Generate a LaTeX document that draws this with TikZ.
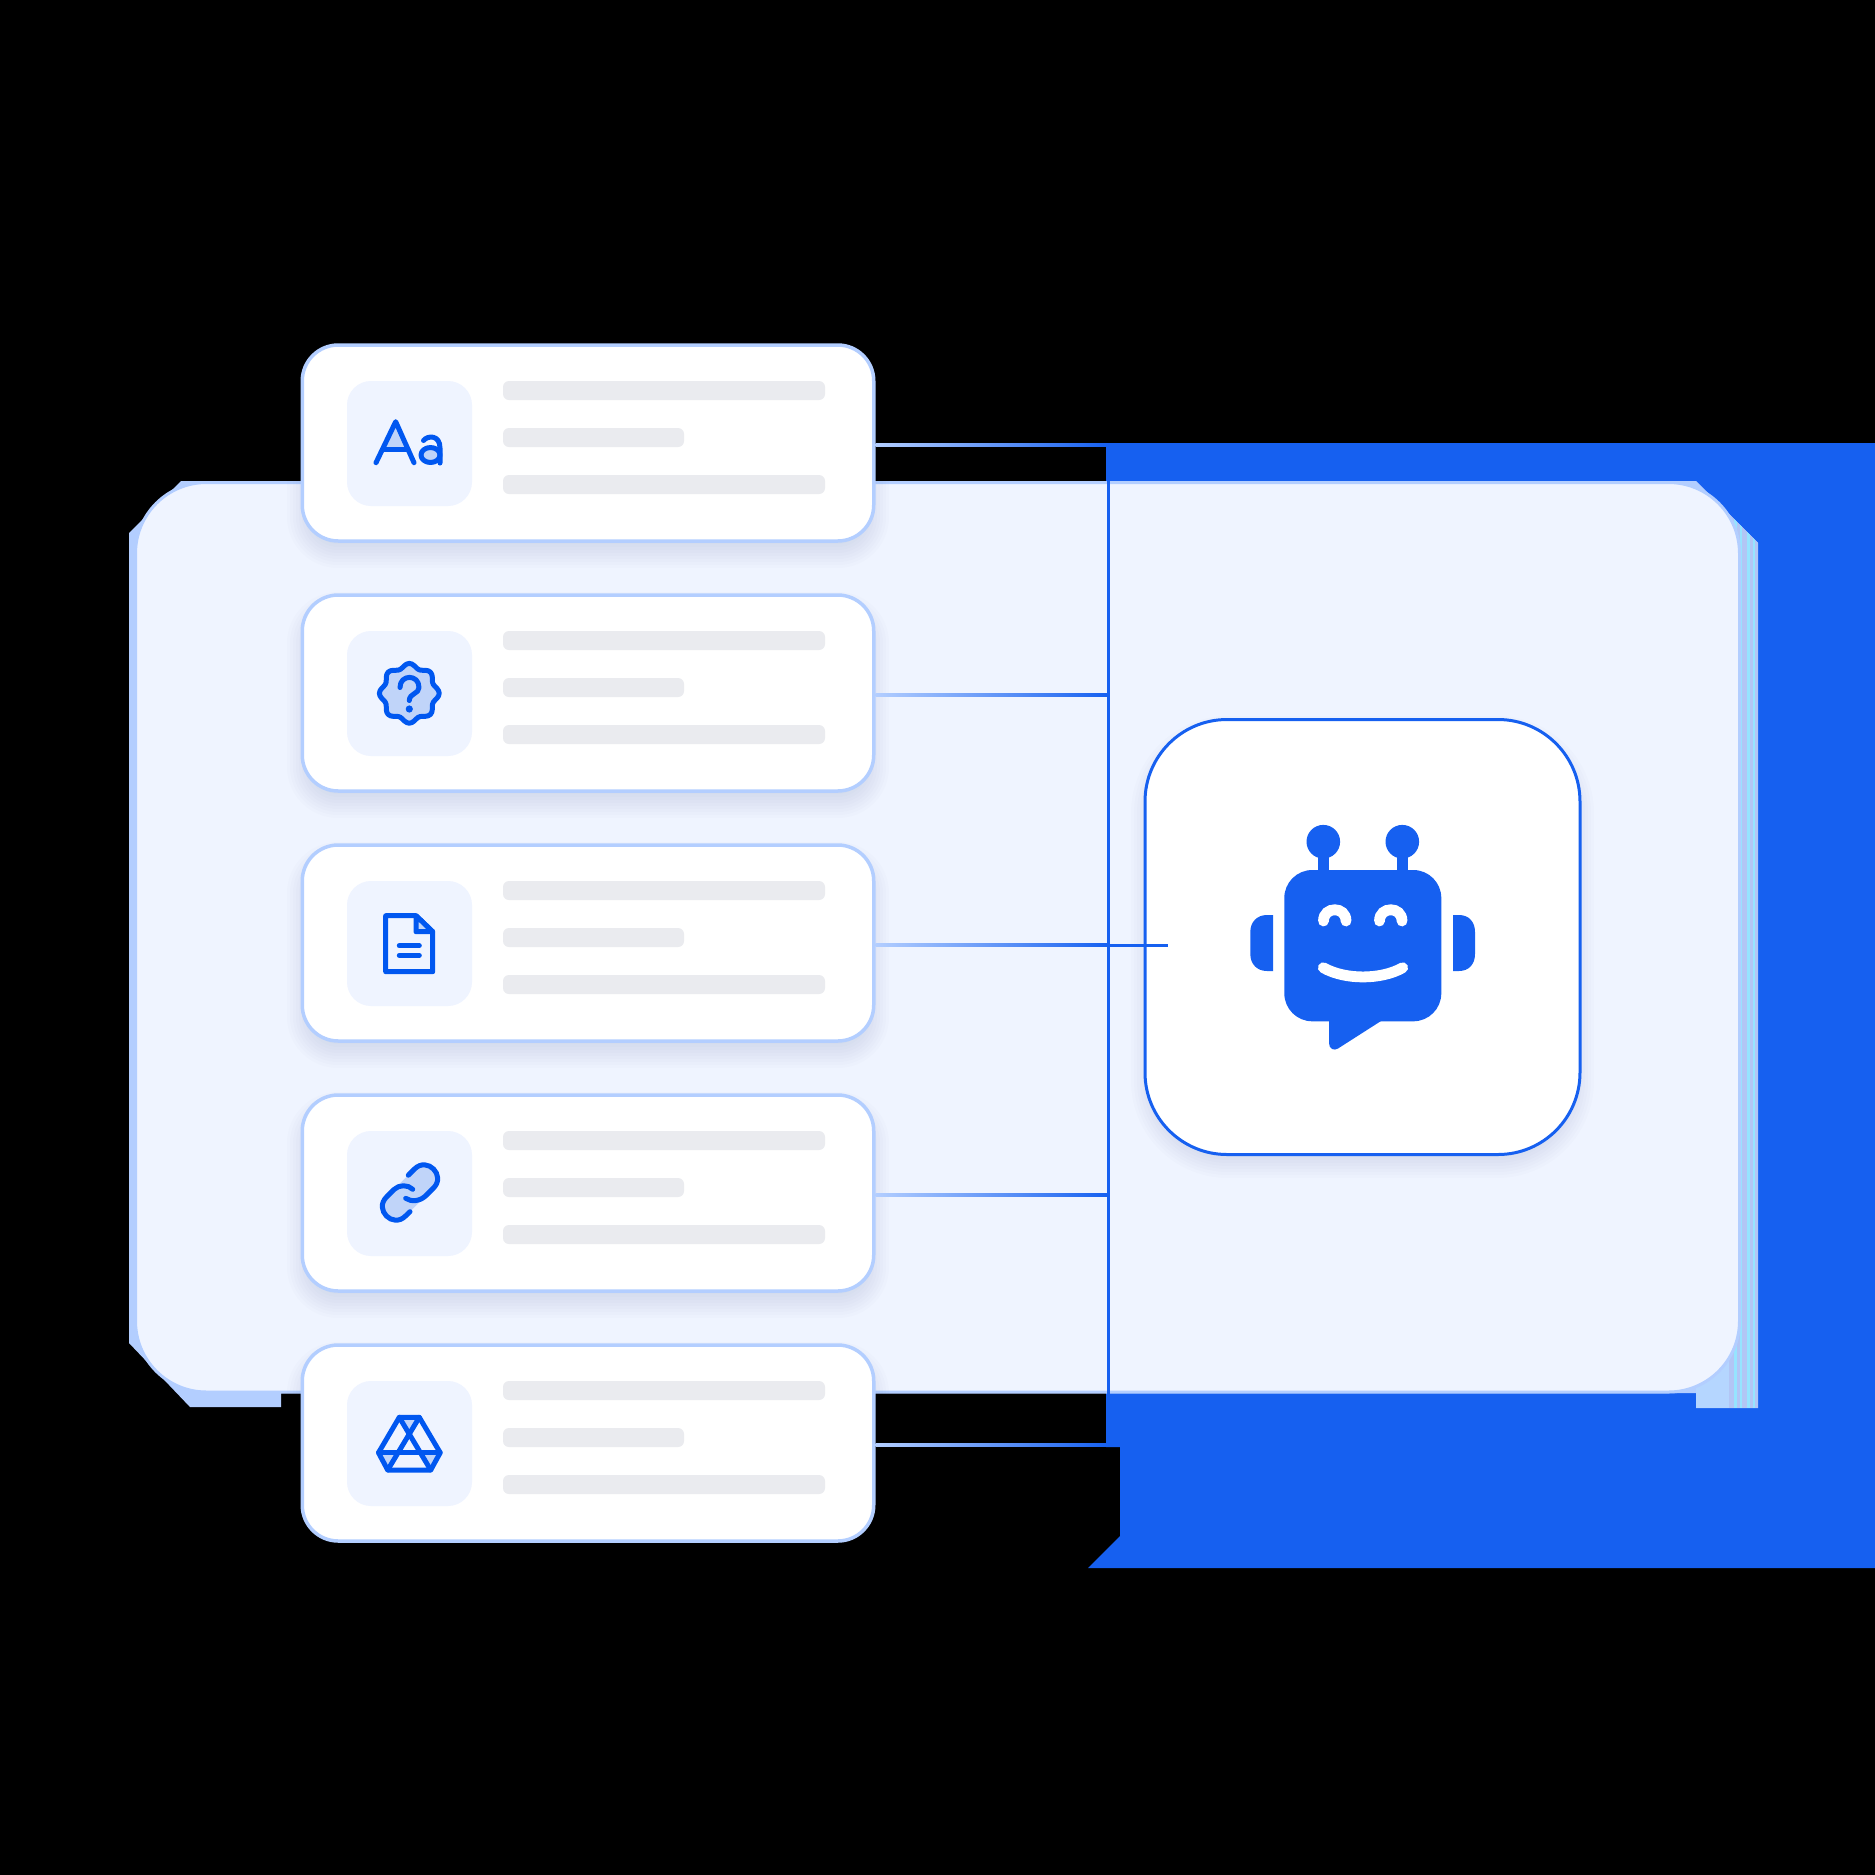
\documentclass[tikz,border=0pt]{standalone}
\usepackage{tikz}
\usetikzlibrary{calc}
\definecolor{sheet_blue}{RGB}{22, 96, 240}
\definecolor{strip_blue}{RGB}{179, 206, 255}
\definecolor{strip_pale}{RGB}{181, 214, 255}
\definecolor{strip_lilac}{RGB}{178, 198, 245}
\definecolor{strip_cyan}{RGB}{150, 228, 255}
\definecolor{panel_fill}{RGB}{239, 244, 255}
\definecolor{bar_grey}{RGB}{234, 235, 239}
\definecolor{icon_blue}{RGB}{0, 87, 240}
\definecolor{icon_fill}{RGB}{192, 212, 249}
\definecolor{shade_navy}{RGB}{30, 58, 120}
\tikzstyle{panel}=[rectangle,rounded corners=35.5pt,fill=panel_fill,draw=strip_blue,
  line width=1.5pt,inner sep=0pt,minimum width=802pt,minimum height=454.75pt]
\tikzstyle{card}=[rectangle,rounded corners=18pt,fill=white,draw=strip_blue,
  line width=1.75pt,inner sep=0pt,minimum width=285.75pt,minimum height=98pt]
\tikzstyle{tile}=[rectangle,rounded corners=12pt,fill=panel_fill,
  inner sep=0pt,minimum width=62.5pt,minimum height=62.5pt]
\tikzstyle{longbar}=[rectangle,rounded corners=3pt,fill=bar_grey,
  inner sep=0pt,minimum width=161pt,minimum height=9.5pt]
\tikzstyle{shortbar}=[rectangle,rounded corners=3pt,fill=bar_grey,
  inner sep=0pt,minimum width=90.5pt,minimum height=9.5pt]
\tikzstyle{bottile}=[rectangle,rounded corners=41pt,fill=white,draw=sheet_blue,
  line width=1.5pt,inner sep=0pt,minimum width=217.5pt,minimum height=217.5pt]
\tikzstyle{bus}=[draw=sheet_blue,line width=1.5pt]
\tikzstyle{ic}=[draw=icon_blue,line width=2.5pt,line cap=round,line join=round]
\tikzstyle{face}=[draw=white,line width=5.4pt,line cap=round]
\newcommand{\gradwire}[2]{
  \draw[line width=1.9pt,color=strip_blue,opacity=0.5] (#1) to (#2);
  \shade[left color=strip_blue,right color=sheet_blue] ($(#1)+(0,-1.5)$) rectangle ($(#2)+(0,1.5)$);
}
\newcommand{\softshade}[6]{
  \foreach \g in {-15,-12,...,15} {
    \pgfmathsetmacro\rr{(#5+\g)/2}
    \fill[shade_navy,opacity=0.013,rounded corners=\rr pt]
      ({#1-\g},{#2-\g+#6}) rectangle ({#3+\g},{#4+\g+#6});
  }
}

\begin{document}
\begin{tikzpicture}[x=0.5pt,y=-0.5pt]
            \useasboundingbox (0,0) rectangle (1875,1875);
            \fill[black] (0,0) rectangle (1875,1875);
            % sheets behind the panel
            \fill[sheet_blue] (1106,443) -- (1875,443) -- (1875,1568) -- (1088,1568) -- (1120,1536)
              -- (1120,1447) -- (1106,1447) -- cycle;
            \fill[strip_blue] (181,481) -- (1696,481) -- (1758,543) -- (1758,1408) -- (1696,1408)
              -- (1696,1393) -- (281,1393) -- (281,1407) -- (190,1407) -- (129,1343) -- (129,533) -- cycle;
            \fill[strip_pale] (1696,1330) rectangle (1729,1408);
            \begin{scope}
            \clip (1696,481) -- (1758,543) -- (1758,1408) -- (1696,1408) -- cycle;
            \fill[strip_lilac] (1729,500) rectangle (1758,1408);
            \fill[strip_cyan] (1734,500) rectangle (1737,1408);
            \fill[strip_cyan] (1739.5,500) rectangle (1741.5,1408);
            \fill[strip_cyan] (1747,500) rectangle (1750,1408);
            \fill[strip_cyan] (1753,500) rectangle (1755,1408);
            \end{scope}
            \node [style=panel] (panel) at (937.5,937.25) {};
            % shadows stay on the panel
            \begin{scope}
            \clip[rounded corners=35.5pt] (panel.north west) rectangle (panel.south east);
            \softshade{302}{345}{874}{541}{36}{12}
            \softshade{302}{595}{874}{791}{36}{12}
            \softshade{302}{845}{874}{1041}{36}{12}
            \softshade{302}{1095}{874}{1291}{36}{12}
            \softshade{302}{1345}{874}{1541}{36}{12}
            \softshade{1146}{721}{1579}{1153}{82}{10}
            \end{scope}
            % cards
            \node [style=card] (card1) at (588,443) {};
            \node [style=card] (card2) at (588,693) {};
            \node [style=card] (card3) at (588,943) {};
            \node [style=card] (card4) at (588,1193) {};
            \node [style=card] (card5) at (588,1443) {};
            \node [style=tile] (tile1) at (409.5,443.5) {};
            \node [style=tile] (tile2) at (409.5,693.5) {};
            \node [style=tile] (tile3) at (409.5,943.5) {};
            \node [style=tile] (tile4) at (409.5,1193.5) {};
            \node [style=tile] (tile5) at (409.5,1443.5) {};
            \node [style=longbar] (top1) at (664,390.5) {};
            \node [style=shortbar] (mid1) at (593.5,437.5) {};
            \node [style=longbar] (low1) at (664,484.5) {};
            \node [style=longbar] (top2) at (664,640.5) {};
            \node [style=shortbar] (mid2) at (593.5,687.5) {};
            \node [style=longbar] (low2) at (664,734.5) {};
            \node [style=longbar] (top3) at (664,890.5) {};
            \node [style=shortbar] (mid3) at (593.5,937.5) {};
            \node [style=longbar] (low3) at (664,984.5) {};
            \node [style=longbar] (top4) at (664,1140.5) {};
            \node [style=shortbar] (mid4) at (593.5,1187.5) {};
            \node [style=longbar] (low4) at (664,1234.5) {};
            \node [style=longbar] (top5) at (664,1390.5) {};
            \node [style=shortbar] (mid5) at (593.5,1437.5) {};
            \node [style=longbar] (low5) at (664,1484.5) {};
            \node [style=bottile] (bot) at (1362.5,937) {};
            % wires
            \coordinate (bus1) at (1108,445);
            \coordinate (bus2) at (1108,695);
            \coordinate (bus3) at (1108,945);
            \coordinate (bus4) at (1108,1195);
            \coordinate (bus5) at (1108,1445);
            \coordinate (stub) at (1168,945);
            \draw [style=bus] (bus1) to (bus5);
            \draw [style=bus] (bus3) to (stub);
            \gradwire{card1.east |- bus1}{bus1}
            \gradwire{card2.east |- bus2}{bus2}
            \gradwire{card3.east |- bus3}{bus3}
            \gradwire{card4.east |- bus4}{bus4}
            \gradwire{card5.east |- bus5}{bus5}
            % Aa
            \begin{scope}[shift={(340,380)}]
            \fill[icon_fill] (55.7,41.7) -- (43,69.5) -- (68,69.5) -- cycle;
            \draw[style=ic] (36,82.7) -- (55.7,41.7) -- (74,82.7);
            \draw[style=ic] (43,69.5) -- (68,69.5);
            \draw[style=ic,fill=icon_fill] (90.5,75) ellipse (9.5 and 7.5);
            \draw[style=ic] (83.5,60.5) .. controls (88,55) and (100,55) .. (100,68) -- (100,83);
            \end{scope}
            % badge
            \begin{scope}[shift={(340,630)}]
            \draw[style=ic,fill=icon_fill] plot[smooth cycle,domain=0:355,samples=72]
              ({69.3+(27.7+2.2*cos(8*\x))*cos(\x)},{63.3+(27.7+2.2*cos(8*\x))*sin(\x)});
            \draw[style=ic] (60,57.5) .. controls (60,44) and (79,44) .. (79,57.5)
              .. controls (79,64) and (69.5,63) .. (69.3,70.5);
            \fill[icon_blue] (69.3,79) circle (3.6);
            \end{scope}
            % page
            \begin{scope}[shift={(340,880)}]
            \draw[style=ic] (76,35.7) -- (45.7,35.7) -- (45.7,91.7) -- (92.7,91.7) -- (92.7,51.7) -- cycle;
            \draw[style=ic,fill=icon_fill] (76,35.7) -- (76,51.7) -- (92.7,51.7) -- cycle;
            \draw[style=ic] (59.3,65.7) -- (79.3,65.7);
            \draw[style=ic] (59.3,75.3) -- (79.3,75.3);
            \end{scope}
            % chain
            \begin{scope}[shift={(340,1130)}]
            \draw[draw=icon_fill,line width=13.5pt,line cap=round] (56,76.5) -- (84,48.5);
            \draw[style=ic] (68.3,45.2) -- (74.5,39) .. controls (87.2,26.3) and (106.2,45.3) .. (93.5,58)
              -- (86,65.5) .. controls (80,71.5) and (71,72) .. (65.7,68.3);
            \draw[style=ic] (72.7,59.3) .. controls (68,54.5) and (59,54.5) .. (54,59.5) -- (46.5,67)
              .. controls (33.8,79.7) and (52.8,98.7) .. (65.5,86) -- (70,81.7);
            \end{scope}
            % drive
            \begin{scope}[shift={(340,1380)}]
            \fill[icon_fill] (59.3,37.3) -- (79.3,37.3) -- (69.3,54) -- cycle;
            \fill[icon_fill] (38.5,72.7) -- (58,72.7) -- (47.7,90) -- cycle;
            \fill[icon_fill] (100.2,72.7) -- (80.5,72.7) -- (90.7,90) -- cycle;
            \draw[style=ic] (59.3,37.3) -- (79.3,37.3) -- (100.2,72.7) -- (90.7,90) -- (47.7,90) -- (38.5,72.7) -- cycle;
            \draw[style=ic] (38.5,72.7) -- (100.2,72.7);
            \draw[style=ic] (59.3,37.3) -- (90.7,90);
            \draw[style=ic] (79.3,37.3) -- (47.7,90);
            \end{scope}
            % robot
            \fill[sheet_blue] (1323.3,841.7) circle (16.8);
            \fill[sheet_blue] (1402.3,841.7) circle (16.8);
            \fill[sheet_blue] (1318,850) rectangle (1329,875);
            \fill[sheet_blue] (1396.7,850) rectangle (1407.7,875);
            \fill[sheet_blue,rounded corners=14pt] (1284.3,870) rectangle (1441.3,1021.3);
            \fill[sheet_blue] (1329,1015) -- (1329,1043) .. controls (1329,1049) and (1334,1051) .. (1338,1048.5)
              -- (1381,1021) -- (1381,1015) -- cycle;
            \fill[sheet_blue] (1273,915) -- (1267,915) .. controls (1257,915) and (1250.3,922) .. (1250.3,932)
              -- (1250.3,954) .. controls (1250.3,964) and (1257,971) .. (1267,971) -- (1273,971) -- cycle;
            \fill[sheet_blue] (1453,915) -- (1459,915) .. controls (1469,915) and (1475,922) .. (1475,932)
              -- (1475,954) .. controls (1475,964) and (1469,971) .. (1459,971) -- (1453,971) -- cycle;
            \draw[style=face] (1323.5,921) .. controls (1323.5,906) and (1346,906) .. (1346,921);
            \draw[style=face] (1379.5,921) .. controls (1379.5,906) and (1402,906) .. (1402,921);
            \draw[style=face] (1323.3,967.7) .. controls (1345,980) and (1381,980) .. (1402.7,967.7);
\end{tikzpicture}
\end{document}
